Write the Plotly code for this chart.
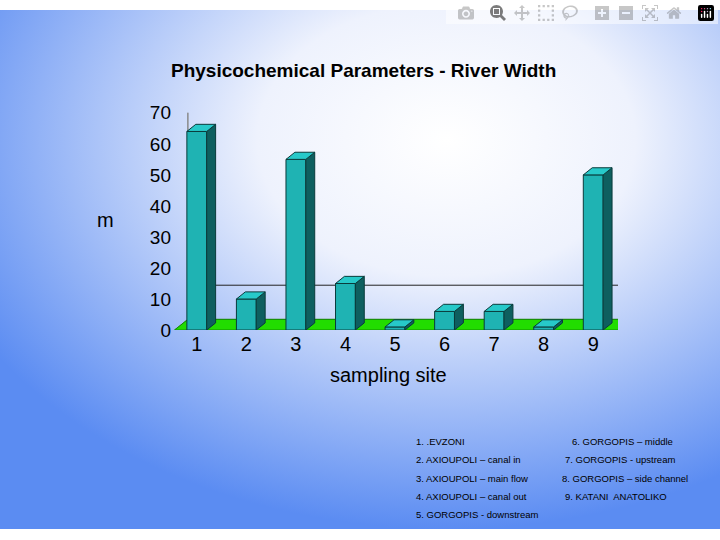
import plotly.graph_objects as go
import base64

sites = ["1", "2", "3", "4", "5", "6", "7", "8", "9"]
width_m = [64, 10, 55, 15, 1, 6, 6, 1, 50]
y_ticks = [0, 10, 20, 30, 40, 50, 60, 70]
legend_left = ["1. .EVZONI", "2. AXIOUPOLI \u2013 canal in", "3. AXIOUPOLI \u2013 main flow",
               "4. AXIOUPOLI \u2013 canal out", "5. GORGOPIS - downstream"]
legend_right = ["6. GORGOPIS \u2013 middle", "7. GORGOPIS - upstream",
                "8. GORGOPIS \u2013 side channel", "9. KATANI  ANATOLIKO"]

svg = ('<svg xmlns="http://www.w3.org/2000/svg" width="720" height="540">'
       '<defs><radialGradient id="g" cx="0.62" cy="0.25" r="0.75">'
       '<stop offset="0" stop-color="#ffffff"/><stop offset="0.35" stop-color="#eef2fd"/>'
       '<stop offset="1" stop-color="#5b8cf2"/>'
       '</radialGradient></defs><rect width="720" height="540" fill="url(#g)"/></svg>')
uri = "data:image/svg+xml;base64," + base64.b64encode(svg.encode()).decode()

xs = list(range(len(sites)))
bw = 0.4
dx, dy = 0.18, 2.3

fig = go.Figure()
fig.add_trace(go.Bar(x=xs, y=width_m, width=bw, marker=dict(color="#1fb3b3", line=dict(color="#0a3b3b", width=1))))

shapes = []
shapes.append(dict(type="path", xref="x", yref="y", layer="below",
                   path=f"M -0.45 0 L {-0.45+dx*1.5} {dy*1.5} L {-0.45+dx*1.5} {70+dy*1.5}",
                   line=dict(color="#888", width=1)))
shapes.append(dict(type="rect", xref="x", yref="y", layer="below",
                   x0=-0.45+dx*1.5, x1=8.5+dx*1.5, y0=dy*1.5, y1=70+dy*1.5,
                   line=dict(color="#888", width=1), fillcolor="rgba(0,0,0,0)"))
shapes.append(dict(type="path", xref="x", yref="y", layer="below",
                   path=f"M -0.45 0 L 8.5 0 L {8.5+dx*1.5} {dy*1.5} L {-0.45+dx*1.5} {dy*1.5} Z",
                   fillcolor="#22dd00", line=dict(color="#118800", width=1)))
shapes.append(dict(type="line", xref="x", yref="y", layer="below",
                   x0=-0.45+dx*1.5, x1=8.5+dx*1.5, y0=11+dy*1.5, y1=11+dy*1.5,
                   line=dict(color="#222", width=1)))
for x, v in zip(xs, width_m):
    r = x + bw / 2
    l = x - bw / 2
    shapes.append(dict(type="path", xref="x", yref="y",
                       path=f"M {r} 0 L {r+dx} {dy} L {r+dx} {v+dy} L {r} {v} Z",
                       fillcolor="#0e5f5f", line=dict(color="#0a3b3b", width=1)))
    shapes.append(dict(type="path", xref="x", yref="y",
                       path=f"M {l} {v} L {l+dx} {v+dy} L {r+dx} {v+dy} L {r} {v} Z",
                       fillcolor="#27c9c9", line=dict(color="#0a3b3b", width=1)))

annotations = [
    dict(text="<b>Physicochemical Parameters - River Width</b>", x=0.505, y=1 - 50/540, xref="paper", yref="paper",
         showarrow=False, font=dict(size=19, color="black", family="Liberation Sans")),
    dict(text="m", x=0.132, y=1 - 218/540, xref="paper", yref="paper", showarrow=False,
         font=dict(size=20, color="black", family="Liberation Sans")),
    dict(text="sampling site", x=0.54, y=1 - 393/540, xref="paper", yref="paper", showarrow=False,
         font=dict(size=20, color="black", family="Liberation Sans")),
]
for i, t in enumerate(legend_left):
    annotations.append(dict(text=t, x=414/720, y=1 - (457 + i * 19) / 540, xref="paper", yref="paper",
                            xanchor="left", showarrow=False, font=dict(size=9.5, family="Liberation Sans", color="black")))
right_x = [570, 563, 560, 563]
for i, t in enumerate(legend_right):
    annotations.append(dict(text=t, x=right_x[i]/720, y=1 - (457 + i * 19) / 540, xref="paper", yref="paper",
                            xanchor="left", showarrow=False, font=dict(size=9.5, family="Liberation Sans", color="black")))

fig.update_layout(
    width=720, height=540, margin=dict(l=0, r=0, t=0, b=0),
    paper_bgcolor="#ffffff", plot_bgcolor="rgba(0,0,0,0)", showlegend=False,
    images=[dict(source=uri, xref="paper", yref="paper", x=0, y=1, sizex=1, sizey=1,
                 sizing="stretch", layer="below")],
    shapes=shapes, annotations=annotations,
    xaxis=dict(domain=[172/720, 618/720], range=[-0.5, 8.5], tickvals=xs, ticktext=sites,
               showgrid=False, zeroline=False, showline=False, ticks="",
               tickfont=dict(size=20, color="black", family="Liberation Sans")),
    yaxis=dict(domain=[(540-333)/540, (540-107)/540], range=[0, 70], tickvals=y_ticks,
               showgrid=False, zeroline=False, showline=False, ticks="",
               tickfont=dict(size=19, color="black", family="Liberation Sans")),
)
fig.write_html("out.html", post_script="document.body.style.margin='0';document.body.style.overflow='hidden';")
